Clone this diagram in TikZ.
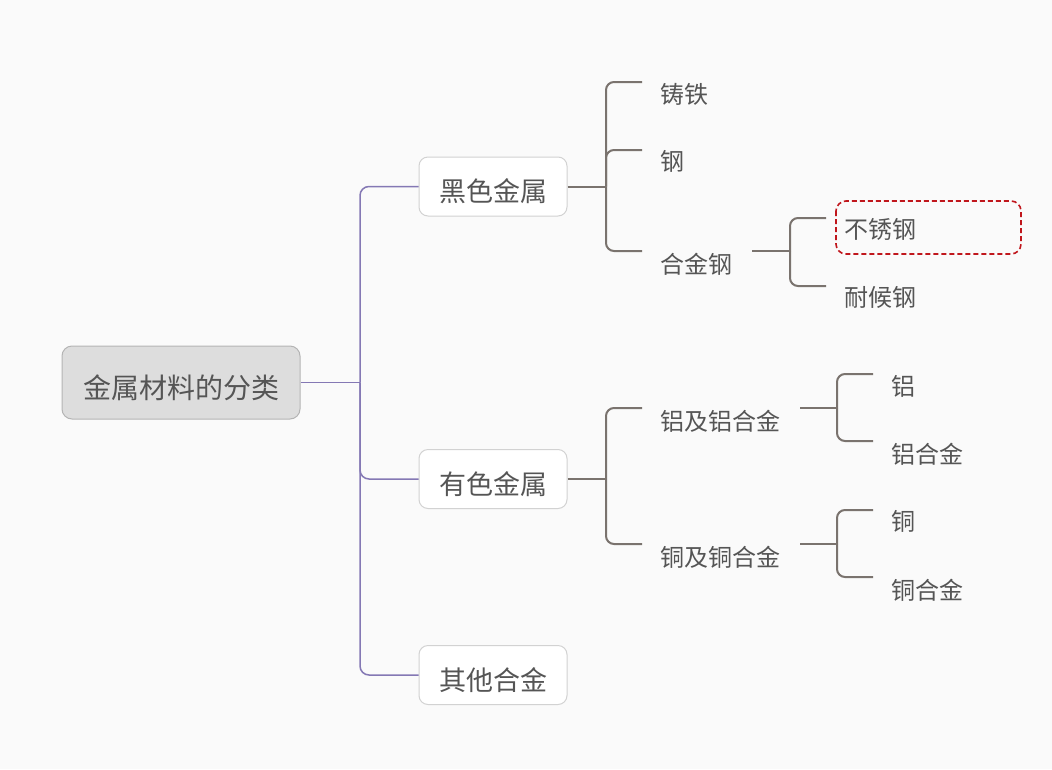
\documentclass[tikz,border=0pt]{standalone}
\usepackage{fontspec}
\setmainfont{Noto Sans CJK SC}
\definecolor{bgc}{RGB}{250,250,250}
\definecolor{purp}{RGB}{132,120,180}
\definecolor{brc}{RGB}{122,115,110}
\definecolor{txt}{RGB}{85,85,85}
\definecolor{nbd}{RGB}{210,210,210}
\definecolor{rootf}{RGB}{221,221,221}
\definecolor{rootb}{RGB}{180,180,180}
\definecolor{redc}{RGB}{192,22,28}
\newcommand{\dn}[1]{\raisebox{-5pt}[\height][\depth]{#1}}
\tikzset{
  rootbox/.style={draw=rootb, fill=rootf, rounded corners=10pt, line width=1pt, minimum width=238pt, minimum height=73pt, text=txt, font=\fontsize{28}{32}\selectfont, inner sep=0pt},
  mainbox/.style={draw=nbd, fill=white, rounded corners=9pt, line width=1pt, minimum width=148pt, minimum height=59pt, text=txt, font=\fontsize{27}{30}\selectfont, inner sep=0pt},
  leaf/.style={anchor=west, inner xsep=18pt, inner ysep=2pt, text=txt, font=\fontsize{24}{28}\selectfont},
  pline/.style={draw=purp, line width=1.5pt, rounded corners=9pt},
  pstem/.style={draw=purp, line width=1.5pt},
  gline/.style={draw=brc, line width=2pt, rounded corners=8pt},
  gstem/.style={draw=brc, line width=2pt},
  hilite/.style={draw=redc, dashed, dash pattern=on 5pt off 3pt, line width=1.6pt, rounded corners=10pt}
}
\begin{document}
\begin{tikzpicture}[x=1pt,y=-1pt]
\fill[bgc] (0,0) rectangle (1052,769);
\useasboundingbox (0,0) rectangle (1052,769);

\node[rootbox] (root) at (181,382.5) {\dn{金属材料的分类}};
\node[mainbox] (hei) at (493,186.5) {\dn{黑色金属}};
\node[mainbox] (you) at (493,479) {\dn{有色金属}};
\node[mainbox] (qita) at (493,675) {\dn{其他合金}};

\coordinate (j0) at (360,382.5);
\draw[pstem] (root.east) -- (j0);
\draw[pline] (j0) |- (hei.west);
\draw[pline] (j0) |- (you.west);
\draw[pline] (j0) |- (qita.west);

% black metals
\node[leaf] (zhutie) at (642,94) {铸铁};
\node[leaf] (gang) at (642,161) {钢};
\node[leaf] (hjg) at (642,264) {合金钢};
\coordinate (j1) at (606,186.5);
\draw[gstem] (hei.east) -- (j1);
\draw[gline] (j1) |- ([yshift=12pt]zhutie.west);
\draw[gline] (j1) |- ([yshift=11pt]gang.west);
\draw[gline] (j1) |- ([yshift=13pt]hjg.west);

\node[leaf] (bxg) at (826,229.5) {不锈钢};
\node[leaf] (nhg) at (826,297) {耐候钢};
\coordinate (j2) at (790,251);
\draw[gstem] ([xshift=2pt,yshift=13pt]hjg.east) -- (j2);
\draw[gline] (j2) |- ([yshift=11.5pt]bxg.west);
\draw[gline] (j2) |- ([yshift=11pt]nhg.west);
\draw[hilite] (836,201) rectangle (1021,254);

% non-ferrous
\node[leaf] (lvj) at (642,421) {铝及铝合金};
\node[leaf] (tongj) at (642,557) {铜及铜合金};
\coordinate (j3) at (606,479);
\draw[gstem] (you.east) -- (j3);
\draw[gline] (j3) |- ([yshift=13pt]lvj.west);
\draw[gline] (j3) |- ([yshift=13pt]tongj.west);

\node[leaf] (lv) at (873,386) {铝};
\node[leaf] (lvhj) at (873,454) {铝合金};
\coordinate (j4) at (837,408);
\draw[gstem] ([xshift=2pt,yshift=13pt]lvj.east) -- (j4);
\draw[gline] (j4) |- ([yshift=12pt]lv.west);
\draw[gline] (j4) |- ([yshift=13pt]lvhj.west);

\node[leaf] (tong) at (873,521) {铜};
\node[leaf] (tonghj) at (873,590) {铜合金};
\coordinate (j5) at (837,544);
\draw[gstem] ([xshift=2pt,yshift=13pt]tongj.east) -- (j5);
\draw[gline] (j5) |- ([yshift=11pt]tong.west);
\draw[gline] (j5) |- ([yshift=13pt]tonghj.west);
\end{tikzpicture}
\end{document}
